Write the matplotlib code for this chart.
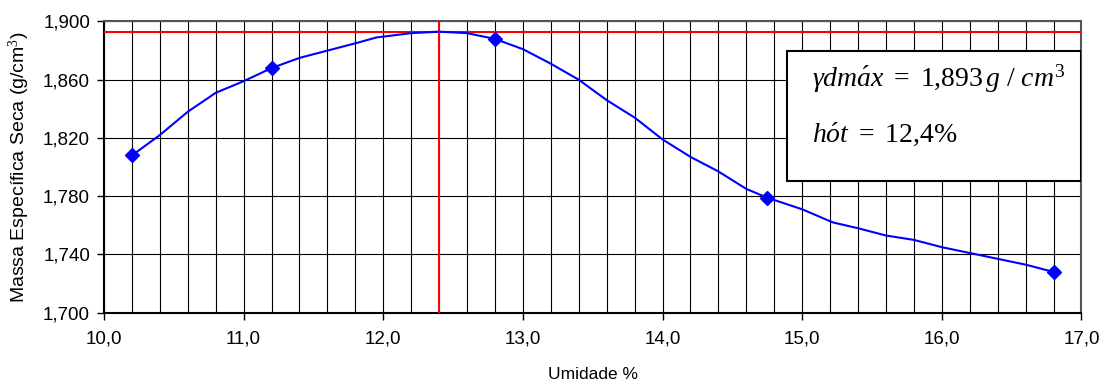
import numpy as np
import matplotlib
matplotlib.use("Agg")
import matplotlib.pyplot as plt
from matplotlib.ticker import MultipleLocator, FuncFormatter
from matplotlib.patches import Rectangle

plt.rcParams['font.family'] = ['Liberation Sans', 'DejaVu Sans']
plt.rcParams['mathtext.fontset'] = 'custom'
plt.rcParams['mathtext.rm'] = 'Liberation Serif'
plt.rcParams['mathtext.it'] = 'Liberation Serif:italic'

# measured points (umidade %, massa especifica seca g/cm3)
umidade = [10.2, 11.2, 12.8, 14.75, 16.8]
massa = [1.808, 1.868, 1.888, 1.779, 1.728]

# smoothed compaction curve
curva_x = [10.2, 10.4, 10.6, 10.8, 11.0, 11.2, 11.4, 11.6, 11.8, 11.95, 12.2, 12.4,
           12.6, 12.8, 13.0, 13.2, 13.4, 13.6, 13.8, 14.0, 14.2, 14.4, 14.6, 14.75,
           15.0, 15.22, 15.4, 15.6, 15.8, 16.0, 16.2, 16.4, 16.6, 16.8]
curva_y = [1.808, 1.822, 1.838, 1.851, 1.859, 1.868, 1.875, 1.880, 1.885, 1.889, 1.892, 1.893,
           1.892, 1.888, 1.881, 1.871, 1.860, 1.846, 1.834, 1.819, 1.807, 1.797, 1.785, 1.779,
           1.771, 1.762, 1.758, 1.753, 1.750, 1.745, 1.741, 1.737, 1.733, 1.728]

y_ticks = [1.700, 1.740, 1.780, 1.820, 1.860, 1.900]

gama_max = 1.893
h_ot = 12.4

fig = plt.figure(figsize=(11.05, 3.85), dpi=100)
ax = fig.add_axes([0.0941, 0.1878, 0.8846, 0.7564])

ax.set_xlim(10, 17)
ax.set_ylim(1.700, 1.900)
ax.xaxis.set_major_locator(MultipleLocator(1))
ax.xaxis.set_minor_locator(MultipleLocator(0.2))
ax.set_yticks(y_ticks)
ax.xaxis.set_major_formatter(FuncFormatter(lambda v, p: f'{v:.1f}'.replace('.', ',')))
ax.yaxis.set_major_formatter(FuncFormatter(lambda v, p: f'{v:.3f}'.replace('.', ',')))
ax.grid(which='both', axis='x', color='black', lw=0.8)
ax.grid(which='major', axis='y', color='black', lw=0.8)
ax.set_axisbelow(True)
ax.tick_params(which='major', direction='out', length=5, width=1, labelsize=13.5)
ax.tick_params(axis='x', pad=8)
ax.tick_params(axis='y', pad=5)
ax.tick_params(which='minor', length=0)

for s in ['left', 'bottom']:
    ax.spines[s].set_linewidth(1.5)
    ax.spines[s].set_color('black')
for s in ['top', 'right']:
    ax.spines[s].set_linewidth(1.5)
    ax.spines[s].set_color('#555555')

ax.axhline(gama_max, color='red', lw=1.5, zorder=3)
ax.axvline(h_ot, color='red', lw=1.5, zorder=3)

ax.plot(curva_x, curva_y, color='#0000FF', lw=1.5, zorder=4)
ax.plot(umidade, massa, 'D', color='#0000FF', ms=7, zorder=5)

ax.set_xlabel('Umidade %', fontsize=12.5, labelpad=14)
ax.set_ylabel('Massa Específica Seca (g/cm$^3$)', fontsize=14, labelpad=8)

box = Rectangle((0.699, 0.452), 0.301, 0.447, transform=ax.transAxes,
                facecolor='white', edgecolor='black', lw=1.5, zorder=6)
ax.add_patch(box)
ax.text(0.724, 0.778, r'$\gamma dm\acute{a}x\ =\ 1{,}893\,g\ /\ cm^{3}$', transform=ax.transAxes,
        fontsize=20, zorder=7, va='baseline')
ax.text(0.724, 0.587, r'$h\acute{o}t\ =\ 12{,}4\%$', transform=ax.transAxes,
        fontsize=20, zorder=7, va='baseline')

fig.savefig('out.png', dpi=100)
